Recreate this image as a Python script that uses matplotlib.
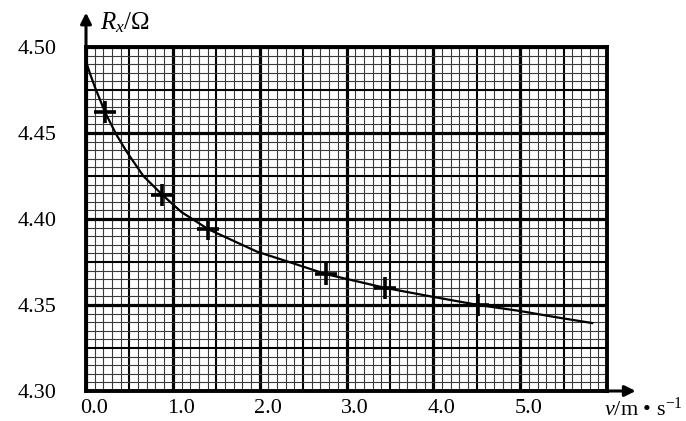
import numpy as np
import matplotlib
matplotlib.use("Agg")
import matplotlib.pyplot as plt
import matplotlib.transforms as mtransforms

plt.rcParams['font.family'] = ['Liberation Serif', 'DejaVu Serif']
plt.rcParams['mathtext.fontset'] = 'custom'
plt.rcParams['mathtext.rm'] = 'Liberation Serif'
plt.rcParams['mathtext.it'] = 'Liberation Serif:italic'

# measured points (crosses)
v_meas = [0.22, 0.88, 1.41, 2.76, 3.44, 4.52]
r_meas = [4.462, 4.414, 4.394, 4.368, 4.360, 4.350]

# hand-drawn fitted curve
curve_v = [0.01, 0.05, 0.10, 0.22, 0.35, 0.47, 0.66, 0.88, 1.10, 1.41,
           1.97, 2.40, 2.76, 3.10, 3.44, 4.00, 4.52, 5.00, 5.40, 5.83]
curve_r = [4.490, 4.484, 4.477, 4.462, 4.449, 4.439, 4.425, 4.414, 4.404, 4.394,
           4.381, 4.374, 4.368, 4.364, 4.360, 4.3547, 4.350, 4.3465, 4.343, 4.3395]

x_ticks = [0.0, 1.0, 2.0, 3.0, 4.0, 5.0]
x_labels = ["0.0", "1.0", "2.0", "3.0", "4.0", "5.0"]
y_ticks = [4.30, 4.35, 4.40, 4.45, 4.50]
y_labels = ["4.30", "4.35", "4.40", "4.45", "4.50"]

fig = plt.figure(figsize=(6.86, 4.21), dpi=100)
ax = fig.add_axes([86 / 686, 1 - 391 / 421, 521 / 686, 344 / 421])
ax.set_xlim(0, 6)
ax.set_ylim(4.30, 4.50)

# graph paper
for i in range(61):
    x = i * 0.1
    if i % 10 == 0:
        lw, c = 2.3, 'k'
    elif i % 5 == 0:
        lw, c = 1.5, 'k'
    else:
        lw, c = 0.8, '#3a3a3a'
    ax.axvline(x, color=c, lw=lw, zorder=1)
for i in range(41):
    y = 4.30 + i * 0.005
    if i % 10 == 0:
        lw, c = 2.3, 'k'
    elif i % 5 == 0:
        lw, c = 1.5, 'k'
    else:
        lw, c = 0.8, '#3a3a3a'
    ax.axhline(y, color=c, lw=lw, zorder=1)

ax.plot(curve_v, curve_r, color='k', lw=1.6, zorder=3)
ax.plot(v_meas, r_meas, linestyle='none', marker='+', color='k',
        markersize=16, markeredgewidth=2.6, zorder=4)

for s in ax.spines.values():
    s.set_linewidth(2.8)
    s.set_zorder(5)

ax.set_xticks(x_ticks)
ax.set_xticklabels(x_labels)
ax.set_yticks(y_ticks)
ax.set_yticklabels(y_labels)
ax.tick_params(length=0, labelsize=16)
ax.tick_params(axis='y', pad=21)
ax.tick_params(axis='x', pad=6)
shift = mtransforms.ScaledTranslation(8 / 100, 0, fig.dpi_scale_trans)
for lbl in ax.get_xticklabels():
    lbl.set_transform(lbl.get_transform() + shift)

# axis arrows
ax.annotate('', xy=(0, 1.1), xytext=(0, 0.99), xycoords='axes fraction',
            arrowprops=dict(arrowstyle='-|>', lw=2.2, color='k', mutation_scale=16,
                            shrinkA=0, shrinkB=0), annotation_clip=False)
ax.annotate('', xy=(1.055, 0), xytext=(0.99, 0), xycoords='axes fraction',
            arrowprops=dict(arrowstyle='-|>', lw=2.2, color='k', mutation_scale=16,
                            shrinkA=0, shrinkB=0), annotation_clip=False)

fig.text(100 / 686, 1 - 23 / 421, r'$\mathit{R_x}$/Ω', fontsize=18,
         ha='left', va='center')
fig.text(604 / 686, 1 - 409 / 421, r'$\mathit{v}$/m • s$^{\mathrm{-1}}$', fontsize=16,
         ha='left', va='center')

fig.savefig("out.png", dpi=100)
